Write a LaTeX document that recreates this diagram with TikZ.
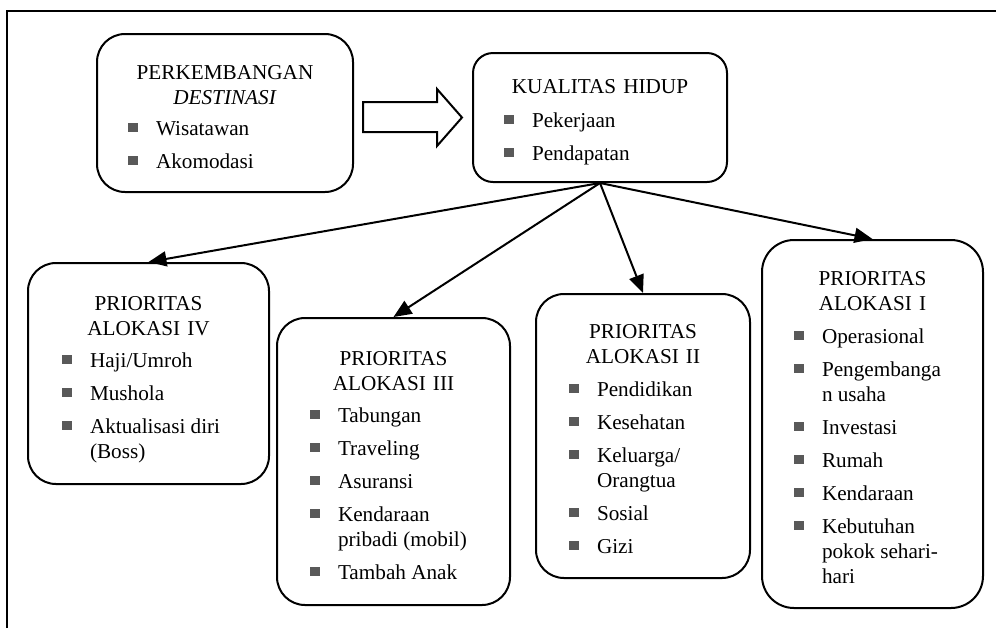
\documentclass[tikz,border=0pt]{standalone}
\usepackage{fontspec}
\setmainfont{Liberation Serif}
\usetikzlibrary{arrows.meta}
\tikzset{
  box/.style={draw=black,line width=1pt,rounded corners=14pt,inner sep=0pt},
  ttl/.style={anchor=base,inner sep=0pt,text width=120pt,align=center},
  lst/.style={anchor=base west,inner sep=0pt}
}
\newcommand\bul{\makebox[14pt][l]{\textcolor{black!65}{\rule[1.4pt]{5pt}{4.8pt}}}}

\begin{document}
\begin{tikzpicture}[->,>={Triangle[length=9pt,width=7.5pt]},x=0.5pt,y=-0.5pt,
                    line width=1pt,font=\fontsize{10.6pt}{12.5pt}\selectfont]
  \useasboundingbox (0,0) rectangle (996,628);
  \draw[-] (7,628) -- (7,11) -- (996,11);

  \node[box,minimum width=128pt,minimum height=79pt]   (dest) at (225,113)   {};
  \node[box,rounded corners=10pt,minimum width=127pt,minimum height=64.5pt] (kh) at (600,117.5) {};
  \node[box,minimum width=120.5pt,minimum height=110.5pt] (p4) at (148.5,373.5) {};
  \node[box,minimum width=116.5pt,minimum height=143.5pt] (p3) at (393.5,461.5) {};
  \node[box,minimum width=107pt,minimum height=142pt]  (p2)   at (643,436)   {};
  \node[box,rounded corners=16pt,minimum width=110.5pt,minimum height=184pt] (p1) at (872.5,424) {};

  % titles
  \node[ttl] (dest-t) at (225,79)    {PERKEMBANGAN\\\textit{DESTINASI}};
  \node[ttl] (kh-t)   at (600,93)    {KUALITAS HIDUP};
  \node[ttl] (p4-t)   at (148.5,310) {PRIORITAS\\ALOKASI IV};
  \node[ttl] (p3-t)   at (393.5,365) {PRIORITAS\\ALOKASI III};
  \node[ttl] (p2-t)   at (643,338)   {PRIORITAS\\ALOKASI II};
  \node[ttl] (p1-t)   at (872.5,285) {PRIORITAS\\ALOKASI I};

  % lists
  \node[lst] (dest-l) at (127,135) {\begin{tabular}[t]{@{}l@{}l@{}}
    \bul & Wisatawan\\[4pt]
    \bul & Akomodasi
  \end{tabular}};
  \node[lst] (kh-l)   at (503,127) {\begin{tabular}[t]{@{}l@{}l@{}}
    \bul & Pekerjaan\\[4pt]
    \bul & Pendapatan
  \end{tabular}};
  \node[lst] (p4-l)   at (61,367)  {\begin{tabular}[t]{@{}l@{}l@{}}
    \bul & Haji/Umroh\\[4pt]
    \bul & Mushola\\[4pt]
    \bul & Aktualisasi diri\\
         & (Boss)
  \end{tabular}};
  \node[lst] (p3-l)   at (309,422) {\begin{tabular}[t]{@{}l@{}l@{}}
    \bul & Tabungan\\[4pt]
    \bul & Traveling\\[4pt]
    \bul & Asuransi\\[4pt]
    \bul & Kendaraan\\
         & pribadi (mobil)\\[4pt]
    \bul & Tambah Anak
  \end{tabular}};
  \node[lst] (p2-l)   at (568,396) {\begin{tabular}[t]{@{}l@{}l@{}}
    \bul & Pendidikan\\[4pt]
    \bul & Kesehatan\\[4pt]
    \bul & Keluarga/\\
         & Orangtua\\[4pt]
    \bul & Sosial\\[4pt]
    \bul & Gizi
  \end{tabular}};
  \node[lst] (p1-l)   at (793,343) {\begin{tabular}[t]{@{}l@{}l@{}}
    \bul & Operasional\\[4pt]
    \bul & Pengembanga\\
         & n usaha\\[4pt]
    \bul & Investasi\\[4pt]
    \bul & Rumah\\[4pt]
    \bul & Kendaraan\\[4pt]
    \bul & Kebutuhan\\
         & pokok sehari-\\
         & hari
  \end{tabular}};

  % block arrow
  \draw[-] (363,102) -- (437,102) -- (437,89) -- (462,117.5) -- (437,146)
           -- (437,132) -- (363,132) -- cycle;

  \path (kh.south) edge (p4.north)
        (kh.south) edge (p3.north)
        (kh.south) edge (p2.north)
        (kh.south) edge (p1.north);
\end{tikzpicture}
\end{document}
